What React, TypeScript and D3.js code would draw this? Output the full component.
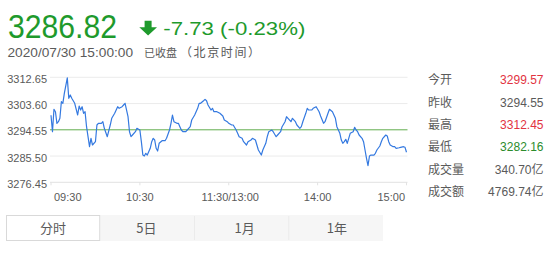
import React from "react";
import * as d3 from "d3";

const minuteIdx = [
  0, 1, 2, 3, 4, 5, 6, 7, 8, 9, 11, 12, 13, 14, 16, 18, 19, 20, 21, 22,
  23, 24, 25, 26, 27, 28, 30, 31, 32, 34, 35, 36, 38, 40, 41, 43, 45, 46, 48, 49,
  50, 52, 53, 54, 55, 57, 58, 60, 61, 62, 63, 64, 65, 67, 68, 69, 70, 71, 72, 73,
  75, 77, 78, 80, 81, 82, 83, 85, 86, 87, 88, 89, 91, 92, 94, 95, 97, 99, 100, 101,
  103, 104, 105, 106, 108, 109, 110, 112, 114, 116, 117, 119, 120, 122, 123, 125, 126, 127, 129, 130,
  132, 133, 135, 136, 138, 139, 140, 142, 143, 145, 146, 147, 149, 150, 152, 153, 155, 156, 158, 159,
  160, 162, 163, 165, 166, 168, 169, 170, 172, 173, 174, 176, 177, 179, 181, 182, 184, 185, 187, 188,
  190, 191, 192, 193, 195, 196, 197, 198, 199, 200, 201, 202, 204, 205, 206, 207, 208, 210, 211, 212,
  213, 214, 215, 216, 218, 219, 220, 222, 223, 224, 226, 227, 228, 229, 231, 232, 233, 235, 236, 238,
  239, 240,
];

const prices = [
  3299.57, 3293.89, 3301.62, 3300.79, 3296.79, 3297.34, 3298.51, 3304.24, 3303.68, 3307.13,
  3312.45, 3305.41, 3306.55, 3305.41, 3303.68, 3299.65, 3302.75, 3301.37, 3302.51, 3300.24,
  3300.79, 3295.62, 3292.17, 3288.72, 3291.62, 3289.31, 3290.45, 3296.2, 3296.79, 3296.79,
  3297.34, 3295.06, 3292.17, 3296.2, 3298.51, 3300.24, 3302.51, 3301.96, 3302.51, 3303.1,
  3303.68, 3299.06, 3293.89, 3292.17, 3292.75, 3293.89, 3295.06, 3294.48, 3290.45, 3285.85,
  3285.51, 3286.45, 3285.85, 3288.17, 3290.45, 3291.62, 3291.03, 3288.17, 3287.24, 3289.89,
  3290.79, 3290.79, 3291.62, 3294.48, 3296.79, 3299.65, 3297.34, 3296.79, 3296.79, 3295.62,
  3294.48, 3293.89, 3293.89, 3294.48, 3295.62, 3297.93, 3299.65, 3301.96, 3303.68, 3303.68,
  3304.58, 3305.06, 3304.58, 3303.1, 3301.37, 3301.96, 3300.79, 3300.79, 3300.24, 3299.31,
  3297.93, 3297.34, 3296.79, 3296.2, 3296.2, 3294.48, 3293.34, 3292.17, 3291.62, 3290.45,
  3289.31, 3290.45, 3291.03, 3291.62, 3291.03, 3289.31, 3287.58, 3285.85, 3287.58, 3289.89,
  3292.17, 3293.89, 3294.48, 3293.89, 3292.17, 3292.75, 3293.89, 3295.62, 3297.34, 3299.06,
  3298.51, 3297.34, 3298.51, 3297.34, 3296.2, 3295.06, 3295.62, 3297.34, 3300.24, 3301.96,
  3301.37, 3301.37, 3301.96, 3302.51, 3300.79, 3299.31, 3296.79, 3297.34, 3300.24, 3301.62,
  3300.79, 3299.65, 3298.51, 3295.62, 3293.34, 3291.03, 3289.89, 3290.45, 3291.27, 3289.89,
  3291.62, 3293.34, 3293.89, 3295.41, 3294.48, 3293.89, 3292.75, 3291.62, 3290.45, 3287.58,
  3284.72, 3282.16, 3285.51, 3285.85, 3285.85, 3286.45, 3287.58, 3288.96, 3290.45, 3291.62,
  3292.75, 3292.41, 3290.45, 3289.31, 3288.72, 3288.72, 3288.17, 3288.37, 3288.51, 3288.72,
  3288.51, 3286.82,
];

const prevClose = 3294.55;
const yTicks = [3312.65, 3303.6, 3294.55, 3285.5, 3276.45];
const xTickMinutes = [0, 60, 120, 180, 240];
const xTickLabels = ["09:30", "10:30", "11:30/13:00", "14:00", "15:00"];

const lastPrice = "3286.82";
const changeText = "-7.73 (-0.23%)";
const dateText = "2020/07/30 15:00:00";
const statusText = "已收盘";
const zoneText = "（北京时间）";

const statLabels = ["今开", "昨收", "最高", "最低", "成交量", "成交额"];
const statValues = ["3299.57", "3294.55", "3312.45", "3282.16", "340.70亿", "4769.74亿"];
const statKinds = ["up", "flat", "up", "down", "flat", "flat"];

const tabLabels = ["分时", "5日", "1月", "1年"];

const LATIN = "'Liberation Sans', Arial, 'Noto Sans CJK SC', sans-serif";
const CJK = "'Noto Sans CJK SC', 'Liberation Sans', sans-serif";
const GREEN = "#1e9a2c";
const RED = "#e2333f";
const GRAY = "#5a5a5a";

export default function App() {
  const W = 552;
  const H = 253;
  const x = d3.scaleLinear().domain([0, 240]).range([51, 406.5]);
  const y = d3.scaleLinear().domain([3276.45, 3312.65]).range([182.3, 77.3]);
  const pts = minuteIdx.map((m, i) => [m, prices[i]] as [number, number]);
  const line = d3
    .line<[number, number]>()
    .x((d) => x(d[0]))
    .y((d) => y(d[1]));

  const statColor = (k: string) => (k === "up" ? RED : k === "down" ? "#2c8c2c" : GRAY);

  const tabX = d3.scaleLinear().domain([0, 4]).range([6, 383]);
  const tabShift = [0, -1, 3, 1];

  return (
    <svg
      width={W}
      height={H}
      style={{ position: "absolute", left: 0, top: 0, background: "#fff" }}
    >
      {/* header */}
      <text x={8} y={37.7} fontFamily={LATIN} fontSize={33} fill={GREEN} textLength={109} lengthAdjust="spacingAndGlyphs">
        {lastPrice}
      </text>
      <path d="M144.6,20.7 H151.6 V27.2 H157 L148.1,35.6 L139.3,27.2 H144.6 Z" fill={GREEN} />
      <text x={163.3} y={34.7} fontFamily={LATIN} fontSize={18.5} fill={GREEN} textLength={142} lengthAdjust="spacingAndGlyphs">
        {changeText}
      </text>
      <text x={7.5} y={57} fontFamily={LATIN} fontSize={13} fill={GRAY} textLength={125.5} lengthAdjust="spacingAndGlyphs">
        {dateText}
      </text>
      <text x={144} y={57} fontFamily={CJK} fontSize={11} fill={GRAY}>
        {statusText}
      </text>
      <text x={180} y={57} fontFamily={CJK} fontSize={12} fill={GRAY} textLength={80} lengthAdjust="spacing">
        {zoneText}
      </text>

      {/* grid */}
      {yTicks.map((t, i) => (
        <g key={t}>
          <line
            x1={50}
            x2={407.5}
            y1={y(t)}
            y2={y(t)}
            stroke={t === prevClose ? "#62ad4e" : i === yTicks.length - 1 ? "#e2e2e2" : "#ececec"}
            strokeWidth={1}
          />
          <text x={47} y={y(t) + 5.5} textAnchor="end" fontFamily={LATIN} fontSize={11} fill={GRAY}>
            {t.toFixed(2)}
          </text>
        </g>
      ))}
      {xTickMinutes.map((m, i) => (
        <g key={m}>
          <line x1={x(m)} x2={x(m)} y1={y(3276.45)} y2={y(3276.45) + 3} stroke="#e2e2e2" />
          <text
            x={i === 0 ? 54 : i === xTickMinutes.length - 1 ? 405 : x(m) + (i === 2 ? 1.5 : 0)}
            y={200.5}
            textAnchor={i === 0 ? "start" : i === xTickMinutes.length - 1 ? "end" : "middle"}
            fontFamily={LATIN}
            fontSize={11}
            fill={GRAY}
          >
            {xTickLabels[i]}
          </text>
        </g>
      ))}

      {/* price line */}
      <path d={line(pts) || ""} fill="none" stroke="#3479e0" strokeWidth={1.2} strokeLinejoin="round" />

      {/* stats */}
      {statLabels.map((l, i) => (
        <g key={l}>
          <text x={428} y={84.3 + i * 22.3} fontFamily={CJK} fontSize={12} fill={GRAY}>
            {l}
          </text>
          <text x={543.5} y={84.3 + i * 22.3} textAnchor="end" fontFamily={LATIN} fontSize={12} fill={statColor(statKinds[i])}>
            {statValues[i]}
          </text>
        </g>
      ))}

      {/* tabs */}
      <rect x={tabX(1)} y={215} width={tabX(4) - tabX(1)} height={26} fill="#f6f6f6" />
      {[2, 3].map((k) => (
        <line key={k} x1={tabX(k)} x2={tabX(k)} y1={216} y2={240} stroke="#ebebeb" />
      ))}
      <rect x={tabX(0) + 0.5} y={215.5} width={tabX(1) - tabX(0) - 1} height={25} fill="#fff" stroke="#d9d9d9" />
      {tabLabels.map((t, i) => (
        <text
          key={t}
          x={(tabX(i) + tabX(i + 1)) / 2 + tabShift[i]}
          y={232.8}
          textAnchor="middle"
          fontFamily={CJK}
          fontSize={13}
          fill={GRAY}
        >
          {t}
        </text>
      ))}
    </svg>
  );
}
